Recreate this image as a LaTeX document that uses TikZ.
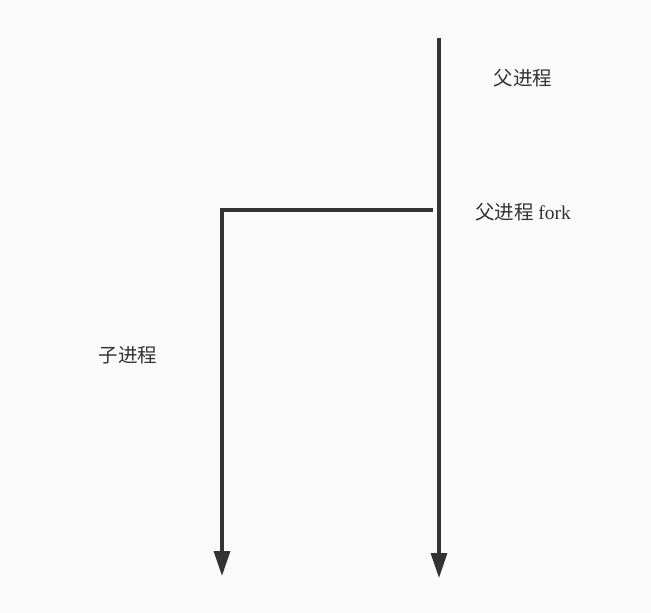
\documentclass[tikz,border=0pt]{standalone}
\usepackage{fontspec}
\setmainfont{Liberation Serif}
\newfontfamily\cjk{Noto Sans CJK SC}
\usetikzlibrary{arrows.meta}
\definecolor{bgcol}{HTML}{FAFAFA}
\definecolor{linecol}{HTML}{333333}
\begin{document}
\begin{tikzpicture}[x=1pt,y=-1pt,every node/.style={font=\fontsize{19.5}{23}\selectfont,text=linecol,inner sep=0pt},
  flow/.style={line width=3.3pt,draw=linecol,-{Triangle[width=16pt,length=25pt]}}]
  \fill[bgcol] (0,0) rectangle (651,613);
  \useasboundingbox (0,0) rectangle (651,613);
  \coordinate (ptop) at (439,38);
  \coordinate (pend) at (439,578);
  \coordinate (fork) at (433,210);
  \coordinate (corner) at (222,210);
  \coordinate (cend) at (222,576);
  \draw[flow] (ptop) -- (pend);
  \draw[flow] (fork) -- (corner) -- (cend);
  \node (plabel) at (523,78) {\cjk 父进程};
  \node (flabel) at (523,212) {{\cjk 父进程} fork};
  \node (clabel) at (128,355) {\cjk 子进程};
\end{tikzpicture}
\end{document}
